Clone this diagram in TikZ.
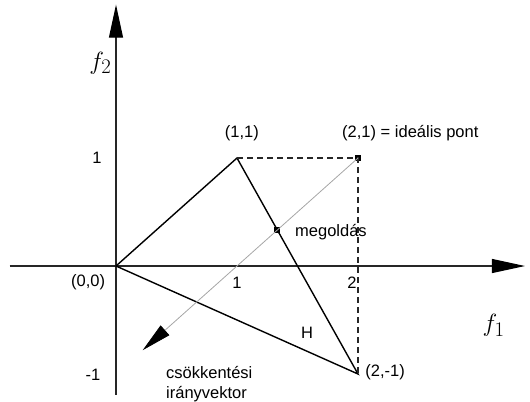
\documentclass[tikz,border=0pt]{standalone}
\usepackage{fontspec}
\setmainfont{Liberation Sans}
\usetikzlibrary{arrows.meta}

\begin{document}
\begin{tikzpicture}[
  x=121pt, y=108pt,
  axis/.style={draw=black!85, line width=1.1pt, -{Triangle[length=33pt, width=14pt, color=black]}},
  edge/.style={draw=black, line width=1.4pt},
  guide/.style={draw=black!85, line width=1.1pt, dashed, dash pattern=on 6pt off 4pt},
  dir/.style={draw=black!35, line width=0.8pt, -{Triangle[length=30pt, width=13pt, color=black]}},
  lbl/.style={font=\fontsize{16.5}{19}\selectfont, inner sep=0pt},
  fl/.style={font=\fontsize{28}{28}\selectfont, inner sep=0pt},
  dot/.style={fill=black, minimum size=6pt, inner sep=0pt}]
  \useasboundingbox (-0.9587,-1.25) rectangle (3.4215,2.463);
  % axes
  \coordinate (xl) at (-0.88,0);
  \coordinate (xr) at (3.38,0);
  \coordinate (yb) at (0,-1.19);
  \coordinate (yt) at (0,2.42);
  \draw[axis] (xl) -- (xr);
  \draw[axis] (yb) -- (yt);
  % points
  \coordinate (O) at (0,0);
  \coordinate (A) at (1,1);
  \coordinate (B) at (2,-1);
  \node[dot] (I) at (2,1) {};
  \node[dot] (M) at (4/3,1/3) {};
  \coordinate (D) at (0.22,-0.78);
  % feasible region H
  \draw[edge] (O) -- (A) -- (B) -- cycle;
  \draw[guide] (A) -- (I.center) -- (B);
  \draw[dir] (I.center) -- (D);
  % labels
  \node[fl] (f2) at (-0.13,1.88) {$f_2$};
  \node[fl] (f1) at (3.12,-0.55) {$f_1$};
  \node[lbl] (ly1) at (-0.157,1) {1};
  \node[lbl] (lym) at (-0.19,-1.01) {-1};
  \node[lbl] (lx1) at (1,-0.157) {1};
  \node[lbl] (lx2) at (1.95,-0.157) {2};
  \node[lbl] (lO) at (-0.231,-0.148) {(0,0)};
  \node[lbl] (lA) at (1.04,1.23) {(1,1)};
  \node[lbl, anchor=west] (lI) at (1.868,1.23) {(2,1) = ideális pont};
  \node[lbl, anchor=west] (lM) at (1.479,0.315) {megoldás};
  \node[lbl] (lH) at (1.58,-0.62) {H};
  \node[lbl, anchor=west] (lB) at (2.06,-0.98) {(2,-1)};
  \node[lbl, anchor=west, align=left, font=\fontsize{16.5}{20}\selectfont] (lD) at (0.413,-1.09) {csökkentési\\irányvektor};
\end{tikzpicture}
\end{document}
